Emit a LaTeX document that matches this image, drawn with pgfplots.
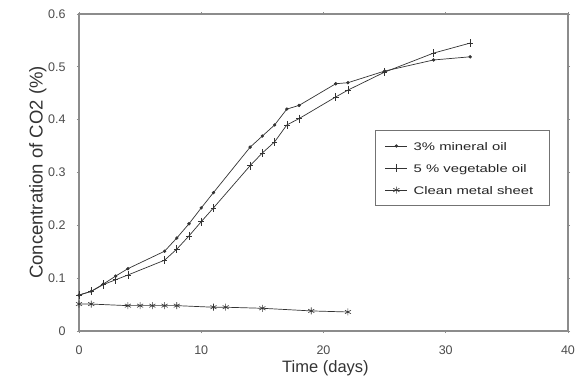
\documentclass[border=0pt]{standalone}
\usepackage{fontspec}
\setmainfont{Liberation Sans}
\usepackage{pgfplots}
\pgfplotsset{compat=1.18}
\begin{document}
\begin{tikzpicture}[x=1pt,y=1pt]
\useasboundingbox (0,0) rectangle (576,378);
\begin{axis}[
  at={(79pt,47pt)}, anchor=origin,
  scale only axis, width=489pt, height=317pt,
  xmin=0, xmax=40, ymin=0, ymax=0.6,
  xtick={0,10,...,40}, ytick={0,0.1,...,0.6},
  yticklabels={0,0.1,0.2,0.3,0.4,0.5,0.6},
  /pgf/number format/assume math mode=true,
  ticklabel style={font=\fontsize{12.5}{14}\selectfont, text=black!70},
  xticklabel style={yshift=-9pt},
  yticklabel style={xshift=-8pt},
  axis line style={draw=black!45, line width=1.2pt},
  tick style={draw=black!45, line width=0.8pt},
  tick align=outside, major tick length=2pt,
  xlabel={Time (days)},
  ylabel={Concentration of CO2 (\%)},
  xlabel style={at={(axis description cs:0.504,-0.119)}, anchor=center, font=\fontsize{16.5}{18}\selectfont, text=black!80},
  ylabel style={at={(axis description cs:-0.084,0.5)}, anchor=center, rotate=0, font=\fontsize{18.5}{20}\selectfont, text=black!80},
  legend cell align=left,
  legend style={at={(axis description cs:0.963,0.634)}, anchor=north east,
    draw=black!55, line width=1pt, inner xsep=10pt, inner ysep=9pt,
    font=\addfontfeatures{FakeStretch=1.35}\fontsize{11}{13}\selectfont,
    row sep=9pt, text=black!85,
    nodes={inner xsep=6pt, text depth=0pt, text height=9pt}},
  legend image code/.code={\draw[mark repeat=2,mark phase=2,#1] plot coordinates {(0pt,0pt) (11pt,0pt) (22pt,0pt)};},
]
\addplot[black!80, line width=0.7pt, mark=*, mark size=1.3pt] coordinates {
(0,0.068)(1,0.075)(2,0.089)(3,0.104)(4,0.118)(7,0.151)(8,0.176)(9,0.203)(10,0.233)(11,0.262)(14,0.348)(15,0.369)(16,0.390)(17,0.420)(18,0.427)(21,0.468)(22,0.470)(25,0.492)(29,0.513)(32,0.519)};
\addlegendentry{3\% mineral oil}
\addplot[black!80, line width=0.7pt, mark=+, mark size=2.8pt, mark options={line width=0.6pt, yscale=1.45}] coordinates {
(0,0.068)(1,0.075)(2,0.088)(3,0.097)(4,0.106)(7,0.134)(8,0.155)(9,0.180)(10,0.207)(11,0.233)(14,0.313)(15,0.337)(16,0.358)(17,0.390)(18,0.402)(21,0.443)(22,0.456)(25,0.490)(29,0.526)(32,0.545)};
\addlegendentry{5 \% vegetable oil}
\addplot[black!80, line width=0.7pt, mark=asterisk, mark size=3.5pt, mark options={line width=0.6pt}] coordinates {
(0,0.051)(1,0.051)(4,0.048)(5,0.048)(6,0.048)(7,0.048)(8,0.048)(11,0.045)(12,0.045)(15,0.043)(19,0.038)(22,0.036)};
\addlegendentry{Clean metal sheet}
\end{axis}
\end{tikzpicture}
\end{document}
